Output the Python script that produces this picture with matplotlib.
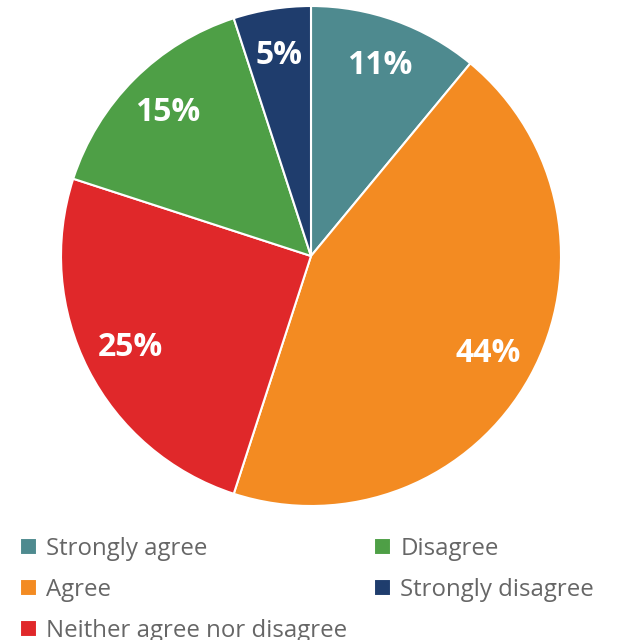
import matplotlib
matplotlib.use("Agg")
import matplotlib.pyplot as plt

labels = ["Strongly agree", "Agree", "Neither agree nor disagree", "Disagree", "Strongly disagree"]
values = [11, 44, 25, 15, 5]
colors = ["#4e8a8f", "#f38b22", "#e0282a", "#4e9f46", "#1f3d6d"]

plt.rcParams['font.family'] = ['Open Sans', 'DejaVu Sans']

fig = plt.figure(figsize=(6.17, 6.4), dpi=100)
ax = fig.add_axes([61 / 617, 134 / 640, 500 / 617, 500 / 640])

wedges, texts, autotexts = ax.pie(
    values, colors=colors, startangle=90, counterclock=False,
    autopct='%d%%', pctdistance=0.81,
    wedgeprops=dict(edgecolor='white', linewidth=1.5),
    textprops=dict(color='white', fontsize=23, fontweight='bold'))
ax.set_xlim(-1, 1)
ax.set_ylim(-1, 1)
ax.set_aspect('equal')

leg = fig.legend(wedges, labels, loc='upper left', bbox_to_anchor=(20 / 617, 1 - 537 / 640),
                 ncol=2, frameon=False, fontsize=17.3, handlelength=0.7, handleheight=0.7,
                 handletextpad=0.4, labelspacing=0.7, columnspacing=1.1,
                 borderaxespad=0, borderpad=0)
for t in leg.get_texts():
    t.set_color('#666666')

fig.savefig("out.png", dpi=100)
